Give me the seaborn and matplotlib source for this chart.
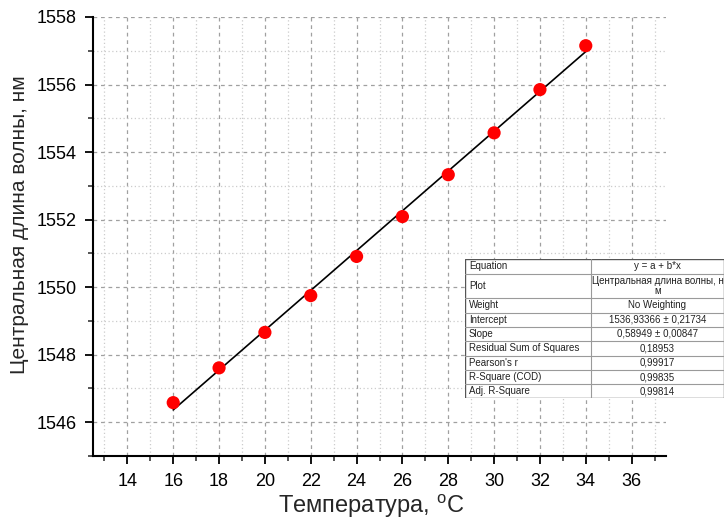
import numpy as np
import pandas as pd
import matplotlib
matplotlib.use("Agg")
import matplotlib.pyplot as plt
from matplotlib.ticker import MultipleLocator
import seaborn as sns

# Measured central wavelength vs. temperature
temperature = [16, 18, 20, 22, 24, 26, 28, 30, 32, 34]
wavelength = [1546.58, 1547.61, 1548.66, 1549.75, 1550.91, 1552.09,
              1553.33, 1554.57, 1555.85, 1557.15]

# Linear fit y = a + b*x
fit_intercept = 1536.93366
fit_slope = 0.58949

x_ticks = [14, 16, 18, 20, 22, 24, 26, 28, 30, 32, 34, 36]
y_ticks = [1546, 1548, 1550, 1552, 1554, 1556, 1558]

table_labels = ["Equation", "Plot", "Weight", "Intercept", "Slope",
                "Residual Sum of Squares", "Pearson's r", "R-Square (COD)",
                "Adj. R-Square"]
table_values = ["y = a + b*x", "Центральная длина волны, н\nм", "No Weighting",
                "1536,93366 ± 0,21734", "0,58949 ± 0,00847", "0,18953",
                "0,99917", "0,99835", "0,99814"]

sns.set_style("white")
plt.rcParams["font.family"] = ["Liberation Sans", "DejaVu Sans"]

W, H = 726, 521
fig = plt.figure(figsize=(W / 100, H / 100), dpi=100)
ax = fig.add_axes([93 / W, 1 - 456 / H, (666 - 93) / W, (456 - 17) / H])

# fitted line between the first and last measurement
fit_x = [temperature[0], temperature[-1]]
fit_df = pd.DataFrame({"x": fit_x,
                       "y": [fit_intercept + fit_slope * v for v in fit_x]})
data_df = pd.DataFrame({"x": temperature, "y": wavelength})

sns.lineplot(data=fit_df, x="x", y="y", ax=ax, color="black", linewidth=1.2,
             zorder=3)
sns.scatterplot(data=data_df, x="x", y="y", ax=ax, color="#ff0000", s=90,
                edgecolor="none", zorder=4)

ax.set_xlim(12.5, 37.5)
ax.set_ylim(1545, 1558)
ax.set_xticks(x_ticks)
ax.set_yticks(y_ticks)
ax.xaxis.set_minor_locator(MultipleLocator(1))
ax.yaxis.set_minor_locator(MultipleLocator(1))

ax.grid(which="major", color="#a0a0a0", linestyle=(0, (3, 3)), linewidth=0.9)
ax.grid(which="minor", color="#cccccc", linestyle=(0, (1, 2)), linewidth=0.9)
ax.set_axisbelow(True)

for side in ("top", "right"):
    ax.spines[side].set_visible(False)
for side in ("left", "bottom"):
    ax.spines[side].set_linewidth(1.5)
    ax.spines[side].set_color("black")

ax.tick_params(which="major", direction="out", length=6, width=1.3,
               labelsize=13, colors="black", left=True, bottom=True, pad=6)
ax.tick_params(which="minor", direction="out", length=3.5, width=1.1,
               left=True, bottom=True)

ax.set_xlabel("Температура, $^{\\mathregular{o}}$C", fontsize=17, labelpad=2)
ax.set_ylabel("Центральная длина волны, нм", fontsize=15, labelpad=5)
ax.xaxis.label.set_x(0.485)
ax.yaxis.label.set_y(0.528)

# Fit summary table, drawn in pixel units inside its own axes
tx0, ty0, tw, th = 465, 259, 259, 139
tax = fig.add_axes([tx0 / W, 1 - (ty0 + th) / H, tw / W, th / H])
tax.set_xlim(0, tw)
tax.set_ylim(th, 0)
tax.axis("off")
tax.add_patch(plt.Rectangle((0, 0), tw, th, facecolor="white",
                            edgecolor="#555555", linewidth=1.0, zorder=1))
row_h = [14.5, 24.5, 14.5, 14.5, 14.0, 14.5, 14.5, 14.0, 14.0]
split = 126
tax.plot([split, split], [0, th], color="#9a9a9a", linewidth=0.8, zorder=2)
y = 0
for i, (lab, val) in enumerate(zip(table_labels, table_values)):
    h = row_h[i]
    if i > 0:
        tax.plot([0, tw], [y, y], color="#9a9a9a", linewidth=0.8, zorder=2)
    tax.text(4, y + h / 2, lab, fontsize=7, color="#222222",
             ha="left", va="center", zorder=3)
    tax.text((split + tw) / 2, y + h / 2, val, fontsize=7, color="#222222",
             ha="center", va="center", linespacing=1.0, zorder=3)
    y += h

fig.savefig("out.png", dpi=100)
